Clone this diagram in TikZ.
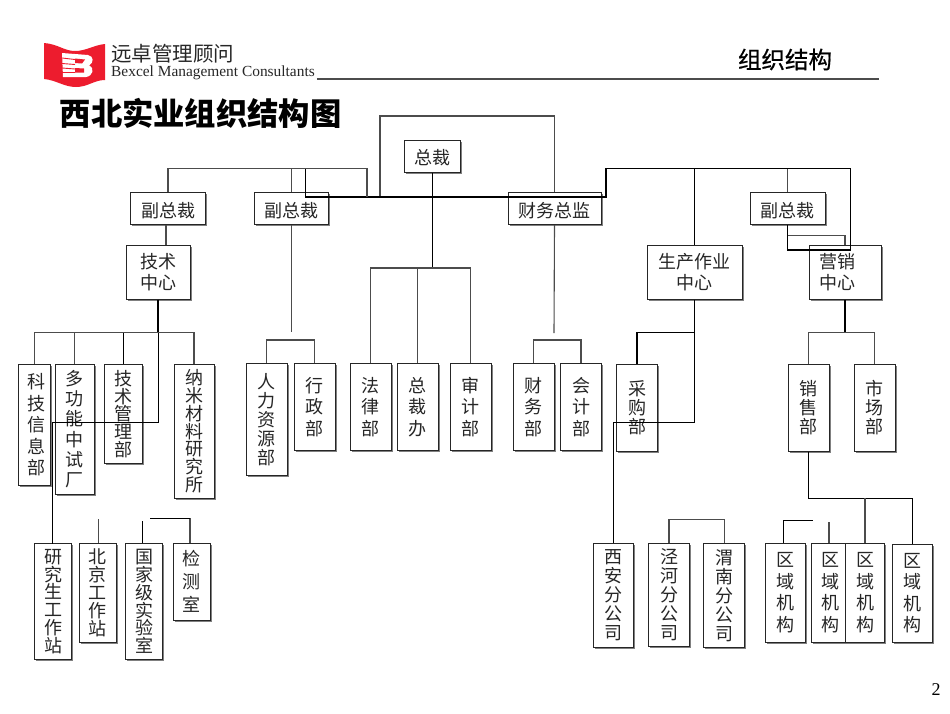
\documentclass[tikz,border=0pt]{standalone}
\usepackage{fontspec}
\setmainfont{Liberation Serif}
\newfontfamily\cjk{Noto Sans CJK SC}
\newfontfamily\cjkheavy[FakeBold=0.6]{Noto Sans CJK SC}
\usetikzlibrary{shadows}
\definecolor{logored}{RGB}{237,28,46}
\lineskip=0pt
\lineskiplimit=-30pt
\tikzset{
  orgbox/.style={draw=black!85,fill=white,line width=1pt,inner sep=0pt,align=center,text=black!85,
    font=\cjk\fontsize{18}{21.5}\selectfont,
    execute at begin node={\rule{0pt}{19pt}},
    general shadow={fill=black!50,shadow xshift=1.5pt,shadow yshift=-1.5pt}},
  midbox/.style={orgbox,font=\cjk\fontsize{18}{19}\selectfont},
  tightbox/.style={orgbox,font=\cjk\fontsize{18}{17.8}\selectfont},
  conn/.style={draw=black!70,line width=1.1pt},
  darkconn/.style={draw=black,line width=1.1pt},
  trunk/.style={draw=black,line width=1.6pt}
}
\begin{document}
\begin{tikzpicture}[x=1pt,y=-1pt]
  \useasboundingbox (0,0) rectangle (950,713);
  % header
  \fill[logored] (44,43) .. controls (58,44) and (64,51) .. (75,51)
     .. controls (86,51) and (94,45) .. (105,44) -- (105,80)
     .. controls (94,80) and (88,87) .. (76,87) .. controls (64,87) and (56,80) .. (44,79) -- cycle;
  \fill[white] (62,53) -- (88,55) .. controls (94,56) and (94,63) .. (89,65.5)
     .. controls (95,68) and (93,76) .. (86,77) -- (63,77) -- cycle;
  \fill[logored] (75,58.5) -- (85,59.5) -- (82,63.5) -- (75,63) -- cycle;
  \fill[logored] (75,68) -- (84,68.5) -- (84,72.5) -- (75,72.5) -- cycle;
  \draw[logored,line width=0.9pt] (62,58) -- (75,59.5) (62,63.5) -- (75,64.5) (62,68) -- (75,69) (62,72.5) -- (75,72.5);
  \node[inner sep=0pt,anchor=west,font=\cjk\fontsize{20.5}{24}\selectfont,text=black!85] (brand) at (111,54) {远卓管理顾问};
  \node[inner sep=0pt,anchor=west,font=\fontsize{15.4}{17}\selectfont,text=black!85] (brandlatin) at (111,73) {Bexcel Management Consultants};
  \coordinate (rulee) at (878.5,79);
  \draw[draw=black!70,line width=1.2pt] (brandlatin.east |- rulee) ++(2,0) -- (rulee);
  \node[inner sep=0pt,font=\cjkheavy\fontsize{23.5}{26}\selectfont] (topic) at (785,59.5) {组织结构};
  \node[inner sep=0pt,anchor=west,font=\cjk\bfseries\fontsize{31.3}{34}\selectfont] (title) at (59.5,113) {西北实业组织结构图};
  \node[inner sep=0pt,font=\fontsize{18}{20}\selectfont] (page) at (936,690) {2};

  % upper boxes
  \node[orgbox,minimum width=56pt,minimum height=32pt] (ceo) at (432.5,156) {总裁};
  \node[orgbox,minimum width=75pt,minimum height=32pt] (vpa) at (168,208.5) {副总裁};
  \node[orgbox,minimum width=74.5pt,minimum height=32pt] (vpb) at (291.25,208.5) {副总裁};
  \node[orgbox,minimum width=93pt,minimum height=32pt] (cfo) at (554.5,208.5) {财务总监};
  \node[orgbox,minimum width=75pt,minimum height=32pt] (vpc) at (787.5,208.5) {副总裁};
  \node[orgbox,minimum width=63.5pt,minimum height=54pt] (tech) at (158.25,272) {技术\\中心};
  \node[orgbox,minimum width=95pt,minimum height=54pt] (prod) at (694.5,272) {生产作业\\中心};
  \node[orgbox,minimum width=72pt,minimum height=54pt] (mktc) at (845,272) {营销\hspace*{15pt}\\中心\hspace*{15pt}};

  % departments
  \node[orgbox,minimum width=31.5pt,minimum height=120.5pt] (sci) at (34.25,424.75) {\hspace*{4pt}科\\\hspace*{4pt}技\\\hspace*{4pt}信\\\hspace*{4pt}息\\\hspace*{4pt}部};
  \node[orgbox,font=\cjk\fontsize{18}{20.3}\selectfont,minimum width=39pt,minimum height=129.5pt] (multi) at (74.5,429.25) {多\\功\\能\\中\\试\\厂};
  \node[tightbox,minimum width=38pt,minimum height=99pt] (mgmt) at (123.5,414) {技\\术\\管\\理\\部};
  \node[tightbox,minimum width=40pt,minimum height=133.5pt] (nano) at (194,431.25) {纳\\米\\材\\料\\研\\究\\所};
  \node[midbox,minimum width=40.5pt,minimum height=111.5pt] (hr) at (266.75,419.25) {人\\力\\资\\源\\部};
  \node[orgbox,minimum width=41pt,minimum height=87pt] (admin) at (314.5,407) {行\\政\\部};
  \node[orgbox,minimum width=41pt,minimum height=87pt] (law) at (370.5,407) {法\\律\\部};
  \node[orgbox,minimum width=41pt,minimum height=87pt] (office) at (417.5,407) {总\\裁\\办};
  \node[orgbox,minimum width=41pt,minimum height=87pt] (audit) at (470.5,407) {审\\计\\部};
  \node[orgbox,minimum width=41pt,minimum height=87pt] (fin) at (533.5,407) {财\\务\\部};
  \node[orgbox,minimum width=41pt,minimum height=87pt] (acct) at (581,407) {会\\计\\部};
  \node[midbox,minimum width=41pt,minimum height=87pt] (purch) at (637,407.5) {采\\购\\部};
  \node[midbox,minimum width=41pt,minimum height=87pt] (sales) at (808.5,407.5) {销\\售\\部};
  \node[midbox,minimum width=41pt,minimum height=87pt] (mkt) at (874.5,407.5) {市\\场\\部};

  % lower boxes
  \node[tightbox,minimum width=37pt,minimum height=116pt] (grad) at (53,601.5) {研\\究\\生\\工\\作\\站};
  \node[tightbox,minimum width=37pt,minimum height=98.5pt] (bj) at (97.5,592.75) {北\\京\\工\\作\\站};
  \node[tightbox,minimum width=37pt,minimum height=116pt] (lab) at (144,601.5) {国\\家\\级\\实\\验\\室};
  \node[orgbox,font=\cjk\fontsize{18}{23}\selectfont,minimum width=37pt,minimum height=76.5pt] (test) at (191.5,581.75) {检\\测\\室};
  \node[midbox,minimum width=40.5pt,minimum height=103.5pt] (xian) at (613.25,595.25) {西\\安\\分\\公\\司};
  \node[midbox,minimum width=40.5pt,minimum height=103pt] (jh) at (669,594.5) {泾\\河\\分\\公\\司};
  \node[midbox,minimum width=41pt,minimum height=103.5pt] (wn) at (724.2,595.25) {渭\\南\\分\\公\\司};
  \node[orgbox,minimum width=39.5pt,minimum height=98.5pt] (rega) at (785.5,592.75) {区\\域\\机\\构};
  \node[orgbox,minimum width=34pt,minimum height=98.5pt] (regb) at (828,592.75) {\hspace*{4pt}区\\\hspace*{4pt}域\\\hspace*{4pt}机\\\hspace*{4pt}构};
  \node[orgbox,minimum width=38.5pt,minimum height=98.5pt] (regc) at (865,592.75) {区\\域\\机\\构};
  \node[orgbox,minimum width=39.5pt,minimum height=98.5pt] (regd) at (912.5,593.25) {区\\域\\机\\构};

  % junction points
  \coordinate (ceobus) at (432.5,268);
  \coordinate (leftbara) at (367,168.7);
  \coordinate (leftbarb) at (367,197);
  \coordinate (loopa) at (380,197);
  \coordinate (loopb) at (380,116);
  \coordinate (midbara) at (305.3,168.7);
  \coordinate (midbarb) at (305.3,197);
  \coordinate (midbarc) at (606,197);
  \coordinate (midbard) at (606,168.7);
  \coordinate (midbare) at (850.3,168.7);
  \coordinate (midbarf) at (850.3,250);
  \coordinate (midbarg) at (787.5,250);
  \coordinate (vpcbus) at (787.5,235.7);
  \coordinate (techin) at (166,224.5);
  \coordinate (techbus) at (158.25,332.7);
  \coordinate (techturn) at (158.25,422.3);
  \coordinate (gradin) at (52.7,543.5);
  \coordinate (vpbend) at (291.25,332);
  \coordinate (hrbus) at (291.25,340);
  \coordinate (cfoend) at (554,333);
  \coordinate (finbus) at (554,340);
  \coordinate (prodbus) at (694.5,332.7);
  \coordinate (prodturn) at (694.5,422.3);
  \coordinate (mktbus) at (845,332.7);
  \coordinate (salesbus) at (808.5,498.3);
  \coordinate (bjend) at (98.7,519);
  \coordinate (labend) at (142.3,521);
  \coordinate (testend) at (190,518.3);
  \coordinate (testbar) at (150,518.3);
  \coordinate (jhbus) at (696,519.3);
  \coordinate (regaend) at (783.3,520.7);
  \coordinate (regabar) at (813.3,520.7);
  \coordinate (regbend) at (829,522.3);

  % president
  \draw[trunk] (ceo.south) -- (ceobus);
  \draw[conn] (law.north) |- (ceobus) -| (audit.north);
  \draw[conn] (office.north) -- (office.north |- ceobus);
  \draw[conn] (loopa) -- (loopb) -| (cfo.north);
  \draw[darkconn] (midbara) -- (midbarb) -- (midbarc) -- (midbard) -- (midbare) -- (midbarf) -- (midbarg) -- (vpc.south);
  \draw[conn] (vpa.north) |- (leftbara) -- (leftbarb);
  \draw[conn] (vpb.north) -- (vpb.north |- leftbara);
  \draw[darkconn] (prod.north) -- (prod.north |- midbard);
  \draw[conn] (vpc.north) -- (vpc.north |- midbard);
  \draw[conn] (vpcbus) -| (mktc.north);

  % technology
  \draw[conn] (techin) -- (techin |- tech.north);
  \draw[trunk] (tech.south) -- (techbus);
  \draw[darkconn] (techbus) -- (techturn) -| (gradin);
  \draw[conn] (sci.north) |- (techbus) -| (nano.north);
  \draw[conn] (multi.north) -- (multi.north |- techbus);
  \draw[darkconn] (mgmt.north) -- (mgmt.north |- techbus);
  \draw[conn] (bjend) -- (bjend |- bj.north);
  \draw[darkconn] (labend) -- (labend |- lab.north);
  \draw[conn] (testend |- test.north) -- (testend);
  \draw[darkconn] (testend) -- (testbar);

  % human resources
  \draw[conn] (vpb.south) -- (vpbend);
  \draw[conn] (hr.north) |- (hrbus) -| (admin.north);

  % finance
  \draw[conn] (cfo.south) -- (cfoend);
  \draw[conn] (fin.north) |- (finbus) -| (acct.north);

  % production
  \draw[darkconn] (prod.south) -- (prodturn) -| (xian.north);
  \draw[darkconn] (purch.north) |- (prodbus);
  \draw[conn] (jh.north) |- (jhbus) -| (wn.north);

  % marketing
  \draw[darkconn,line width=1.3pt] (mktc.south) -- (mktbus);
  \draw[conn] (sales.north) |- (mktbus) -| (mkt.north);
  \draw[darkconn] (sales.south) |- (salesbus) -| (regd.north);
  \draw[conn] (regc.north) -- (regc.north |- salesbus);
  \draw[darkconn] (regaend |- rega.north) -- (regaend) -- (regabar);
  \draw[conn] (regbend) -- (regbend |- regb.north);
\end{tikzpicture}
\end{document}
